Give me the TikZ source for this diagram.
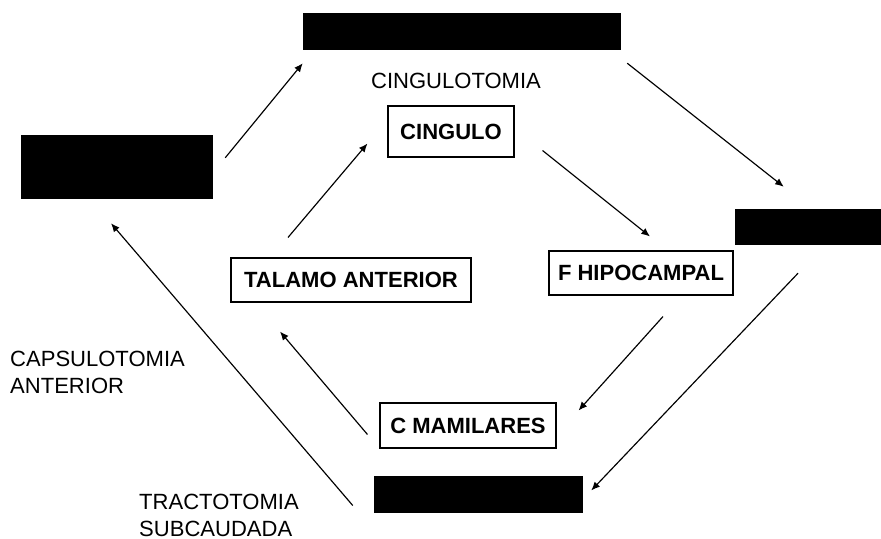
\documentclass[tikz,border=0pt]{standalone}
\usepackage{fontspec}
\setmainfont{Liberation Sans}
\usepackage{tikz}
\usetikzlibrary{arrows.meta, calc, positioning}
\tikzset{
  blk/.style   ={fill=black, draw=none, inner sep=0pt},                       % blacked-out box
  part/.style  ={draw, line width=0.9pt, inner sep=0pt, font=\fontsize{18.8}{23}\selectfont\bfseries},
  lbl/.style   ={inner sep=0pt, align=left, font=\fontsize{18.8}{23}\selectfont},
  flow/.style  ={-{Latex[length=2.6mm, width=2.2mm]}, line width=1pt},
}

\begin{document}
\begin{tikzpicture}[x=0.03cm, y=-0.03cm]
  \useasboundingbox (0,0) rectangle (881,538);
  % outer ring
  \node[blk, minimum width=9.54cm, minimum height=1.11cm] (top) at (462,31.5)  {};
  \node[blk, minimum width=5.76cm, minimum height=1.92cm] (lft) at (117,167)   {};
  \node[blk, minimum width=4.38cm, minimum height=1.08cm] (rgt) at (808,227)   {};
  \node[blk, minimum width=6.27cm, minimum height=1.11cm] (bot) at (478.5,494.5) {};
  \draw[flow] ([shift={(12,23)}]lft.north east) -- ([shift={(0,13)}]top.south west);
  \draw[flow] ([shift={(6,13)}]top.south east) -- ([shift={(49,-22)}]rgt.north west);
  \draw[flow] ([shift={(-10,28)}]rgt.south) -- ([shift={(8,-4)}]bot.east);
  \draw[flow] ([shift={(-21,11)}]bot.west) -- ([shift={(-6,24)}]lft.south);
  % inner circuit
  \node[part, minimum width=3.78cm, minimum height=1.53cm] (cing) at (451,131.5) {CINGULO};
  \node[part, minimum width=7.2cm,  minimum height=1.32cm] (tal)  at (351,280)   {TALAMO ANTERIOR};
  \node[part, minimum width=5.52cm, minimum height=1.32cm] (hip)  at (641,273)   {F HIPOCAMPAL};
  \node[part, minimum width=5.28cm, minimum height=1.35cm] (mam)  at (468,425.5) {C MAMILARES};
  \draw[flow] ([shift={(-63,-20)}]tal.north) -- ([shift={(-20,12)}]cing.west);
  \draw[flow] ([shift={(28,19)}]cing.east) -- ([shift={(9,-14)}]hip.north);
  \draw[flow] ([shift={(22,21)}]hip.south) -- ([shift={(22,-15)}]mam.east);
  \draw[flow] ([shift={(-12,9)}]mam.west) -- ([shift={(-71,29)}]tal.south);
  % surgical labels
  \node[lbl] (cgt) at (456,81) {CINGULOTOMIA};
  \node[lbl, anchor=north west] (cap) at (10,351) {CAPSULOTOMIA\\ANTERIOR};
  \node[lbl, anchor=north west] (trc) at (139,494) {TRACTOTOMIA\\SUBCAUDADA};
\end{tikzpicture}
\end{document}
